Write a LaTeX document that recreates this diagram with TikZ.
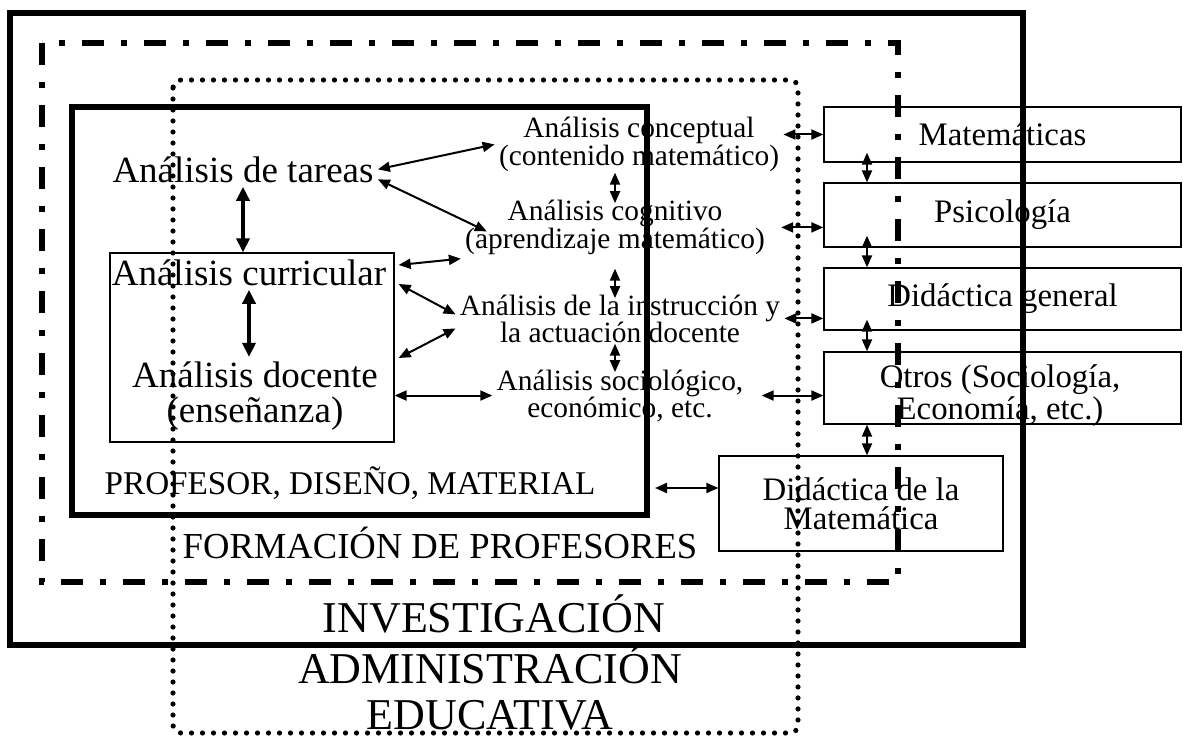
\documentclass[tikz,border=0pt]{standalone}
\usepackage{fontspec}
\setmainfont{Liberation Serif}
\usetikzlibrary{arrows.meta, positioning, calc}

\begin{document}
\begin{tikzpicture}[
  x=0.5pt, y=-0.5pt,
  every node/.style = {inner sep=2pt, align=center},
  bigtext/.style = {font=\fontsize{18.5}{17.5}\selectfont},
  midtext/.style = {font=\fontsize{14.7}{13.5}\selectfont},
  sidebox/.style = {draw, line width=0.65pt, minimum width=178.5pt,
    font=\fontsize{16.4}{14.5}\selectfont},
  sidetext/.style = {font=\fontsize{16.4}{14.5}\selectfont, anchor=base},
  framelabel/.style = {font=\fontsize{#1}{23}\selectfont, anchor=base},
  arrow/.style = {{Triangle[length=6pt,width=5pt]}-{Triangle[length=6pt,width=5pt]}, line width=1pt},
  heavyarrow/.style = {{Triangle[length=7pt,width=6.5pt]}-{Triangle[length=7pt,width=6.5pt]}, line width=1.7pt},
  solidframe/.style = {line width=3pt},
  dashframe/.style = {line width=2.8pt, dash pattern=on 11pt off 8.5pt on 3pt off 8.5pt},
  dotframe/.style = {line width=2.6pt, line cap=round, dash pattern=on 0pt off 5.5pt, rounded corners=4pt}
]
\useasboundingbox (0,0) rectangle (1183,738);

% Left column: teacher analyses
\node[bigtext, anchor=base] (tareas) at (243,182) {Análisis de tareas};
\node[draw, line width=0.65pt, minimum width=142pt, minimum height=94.5pt] (cbox) at (252,347.5) {};
\node[bigtext, anchor=base] (curricular) at (249,285) {Análisis curricular};
\node[bigtext, anchor=base] (docente) at (255,422) {Análisis docente\\(enseñanza)};

% Middle column
\node[midtext, anchor=base] (conceptual) at (639,165) {Análisis conceptual\\(contenido matemático)};
\node[midtext, anchor=base] (cognitivo) at (615,248) {Análisis cognitivo\\(aprendizaje matemático)};
\node[midtext, anchor=base] (instruccion) at (620,342) {Análisis de la instrucción y\\la actuación docente};
\node[midtext, anchor=base] (sociologico) at (620,417) {Análisis sociológico,\\económico, etc.};

% Right column: disciplines
\node[sidebox, minimum height=27.5pt] (mat) at (1002.5,134.5) {Matemáticas};
\node[sidebox, minimum height=32pt] (psi) at (1002.5,215) {Psicología};
\node[sidebox, minimum height=31pt] (didgen) at (1002.5,299) {Didáctica general};
\node[sidebox, minimum height=36pt] (otros) at (1002.5,388) {};
\node[sidetext] (otrostext) at (1000,419) {Otros (Sociología,\\Economía, etc.)};
\node[sidebox, minimum width=142pt, minimum height=47.5pt] (didmat) at (861,503.5) {Didáctica de la\\Matemática};

% Frame labels
\node[framelabel=16.6] (profesor) at (350,494) {PROFESOR, DISEÑO, MATERIAL};
\node[framelabel=18.3] (formacion) at (440,558) {FORMACIÓN DE PROFESORES};
\node[framelabel=22] (investigacion) at (494,632) {INVESTIGACIÓN};
\node[framelabel=22] (administracion) at (490,729) {ADMINISTRACIÓN\\EDUCATIVA};

% === FRAMES ===
\draw[solidframe] (10,13) rectangle (1023,645);
\draw[dashframe] (42,43) rectangle (898,582);
\draw[dotframe] (173,80) rectangle (798,733);
\draw[solidframe] (72,107) rectangle (647,515);

% === ARROWS ===
% Left column
\draw[heavyarrow] (tareas.south) -- (tareas.south |- cbox.north);
\draw[heavyarrow] (curricular.south) -- (curricular.south |- docente.north);

% Left to middle
\draw[arrow] (tareas.east) -- (conceptual.west);
\draw[arrow] ([yshift=-5pt]tareas.east) -- ([xshift=13pt,yshift=-2pt]cognitivo.west);
\draw[arrow] ([xshift=2pt,yshift=41.25pt]cbox.east) -- (cognitivo.south west);
\draw[arrow] ([xshift=2pt,yshift=31.75pt]cbox.east) -- ([yshift=2pt]instruccion.west);
\draw[arrow] ([xshift=2pt,yshift=-5.25pt]cbox.east) -- ([yshift=-5pt]instruccion.west);
\draw[arrow] (cbox.east |- sociologico.west) -- (sociologico.west);

% Middle column
\draw[arrow] ($(cognitivo.north |- conceptual.south)+(0,-3)$) -- ($(cognitivo.north)+(0,7)$);
\draw[arrow] ($(cognitivo.south)+(0,10)$) -- ($(cognitivo.south |- instruccion.north)+(0,8)$);
\draw[arrow] ($(cognitivo.south |- instruccion.south)+(0,-3)$) -- ($(cognitivo.south |- sociologico.north)+(0,7)$);

% Middle to right
\draw[arrow] (mat.west) -- (mat.west -| conceptual.east);
\draw[arrow] (psi.west |- cognitivo.east) -- ([xshift=6pt]cognitivo.east);
\draw[arrow] (didgen.west |- instruccion.east) -- (instruccion.east);
\draw[arrow] (otros.west |- sociologico.east) -- ([xshift=7pt]sociologico.east);

% Right column
\draw[arrow] ($(mat.south)+(-135.5,-10)$) -- ($(psi.north)+(-135.5,0)$);
\draw[arrow] ($(psi.south)+(-135.5,-12)$) -- ($(didgen.north)+(-135.5,0)$);
\draw[arrow] ($(didgen.south)+(-135.5,-11)$) -- ($(otros.north)+(-135.5,0)$);
\draw[arrow] ($(otros.south)+(-135.5,0)$) -- ($(didmat.north)+(6,0)$);

% Teacher frame to didactics
\coordinate (pdm) at (655,488);
\draw[arrow] (pdm) -- (pdm -| didmat.west);

\end{tikzpicture}
\end{document}
